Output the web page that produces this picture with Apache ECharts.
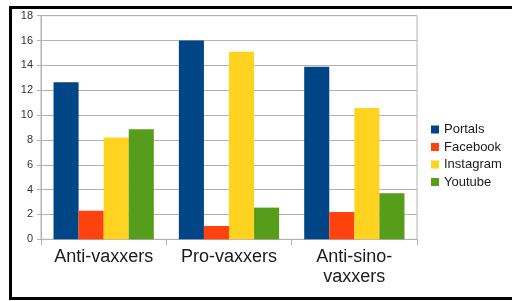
<!DOCTYPE html>
<html>
<head>
<meta charset="utf-8">
<script src="https://cdn.jsdelivr.net/npm/echarts@6/dist/echarts.min.js"></script>
<style>
  html, body { margin: 0; padding: 0; background: #fff; }
  #chart { width: 512px; height: 301px; }
</style>
</head>
<body>
<div id="chart"></div>
<script>
const categories = ['Anti-vaxxers', 'Pro-vaxxers', 'Anti-sino-\nvaxxers']
const seriesNames = ['Portals', 'Facebook', 'Instagram', 'Youtube']
const portals = [12.65, 16, 13.9]
const facebook = [2.3, 1.07, 2.2]
const instagram = [8.2, 15.1, 10.57]
const youtube = [8.85, 2.55, 3.7]
const yTicks = { min: 0, max: 18, interval: 2 }
const colors = ['#004586', '#ff420e', '#ffd320', '#579d1c']

const chart = echarts.init(document.getElementById('chart'))
const font = 'Liberation Sans, Arial, sans-serif'

const series = [portals, facebook, instagram, youtube].map((data, i) => ({
    name: seriesNames[i],
    type: 'bar',
    data: data,
    barGap: '0%',
    barCategoryGap: '20%',
    itemStyle: { color: colors[i] }
}))

chart.setOption({
    animation: false,
    color: colors,
    graphic: [{
        type: 'rect',
        shape: { x: 10.5, y: 7.5, width: 520, height: 291 },
        style: { fill: 'none', stroke: '#000', lineWidth: 3 },
        z: 100
    }],
    grid: {
        left: 41, right: 95, top: 15.7, bottom: 61.7,
        show: true, borderColor: '#b3b3b3', borderWidth: 1
    },
    legend: {
        orient: 'vertical',
        left: 426,
        top: 118,
        icon: 'rect',
        itemWidth: 8,
        itemHeight: 8,
        itemGap: 4.5,
        textStyle: { fontFamily: font, fontSize: 13, color: '#1a1a1a' },
        data: seriesNames
    },
    xAxis: {
        type: 'category',
        data: categories,
        axisLine: { lineStyle: { color: '#b3b3b3' } },
        axisTick: { show: true, length: 6, lineStyle: { color: '#b3b3b3' } },
        axisLabel: {
            fontFamily: font, fontSize: 18, color: '#1a1a1a',
            margin: 8, lineHeight: 20, interval: 0
        }
    },
    yAxis: {
        type: 'value',
        min: yTicks.min,
        max: yTicks.max,
        interval: yTicks.interval,
        axisLine: { show: true, lineStyle: { color: '#b3b3b3' } },
        axisTick: { show: true, length: 4, lineStyle: { color: '#b3b3b3' } },
        splitLine: { lineStyle: { color: '#b3b3b3' } },
        axisLabel: { fontFamily: font, fontSize: 11, color: '#333', margin: 8 }
    },
    series: series
})
</script>
</body>
</html>
